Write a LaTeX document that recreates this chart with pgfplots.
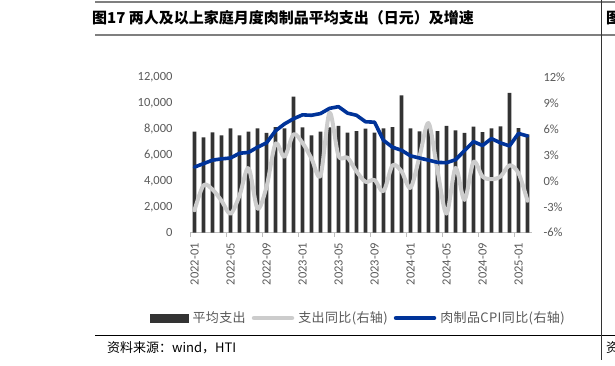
\documentclass[border=0pt]{standalone}
\usepackage{pgfplots}
\usepackage{pgfplotstable}
\pgfplotsset{compat=1.18}
\usepackage{fontspec}
\setmainfont{Carlito}
\newfontfamily\cjk{Noto Sans CJK SC}
\newfontfamily\cjkl{Noto Sans CJK SC}[LetterSpace=3]
\definecolor{barc}{HTML}{333333}
\definecolor{greyl}{HTML}{CCCCCC}
\definecolor{bluel}{HTML}{003399}
\definecolor{tickc}{HTML}{595959}
\definecolor{axc}{HTML}{BFBFBF}
\definecolor{rulec}{HTML}{7F7F7F}

\pgfplotstableread{
x spend yoy cpi
0 7800 -3.4 1.6
1 7370 -0.5 2.0
2 7750 -1.0 2.4
3 7520 -2.3 2.55
4 8060 -3.8 2.65
5 7520 -1.7 3.2
6 7800 1.5 3.3
7 8060 -3.2 3.9
8 7700 -0.7 4.4
9 8150 4.3 5.8
10 8060 2.8 6.6
11 10500 5.4 7.2
12 8140 4.4 7.65
13 7520 2.6 7.6
14 7800 0.6 7.8
15 8140 7.9 8.4
16 8250 2.9 8.6
17 7720 2.7 7.85
18 7850 1.1 7.6
19 8030 -0.1 6.85
20 7720 0.1 6.8
21 8060 -1.2 4.7
22 8160 1.8 3.9
23 10600 1.1 3.55
24 8060 -0.8 2.9
25 7820 2.8 2.65
26 8110 6.7 2.4
27 7850 1.2 2.15
28 8250 -3.8 2.1
29 7900 1.5 2.45
30 7710 -2.2 3.5
31 8190 2.2 4.55
32 7770 0.5 4.1
33 8060 0.2 4.9
34 8210 0.5 4.4
35 10800 1.8 4.05
36 8070 0.9 5.5
37 7600 -2.3 5.2
}\data

\begin{document}
\begin{tikzpicture}
\useasboundingbox (0pt,0pt) rectangle (615pt,366pt);
\draw[rulec, line width=1.5pt] (95pt,364pt) -- (615pt,364pt);
\draw[rulec, line width=1.5pt] (95pt,331pt) -- (615pt,331pt);
\draw[black, line width=0.9pt] (95pt,31pt) -- (615pt,31pt);
\draw[black!80, line width=0.9pt] (601pt,366pt) -- (601pt,6pt);
\node[anchor=west, inner sep=0, font=\cjk\bfseries\fontsize{15}{18}\selectfont] at (92pt,348pt) {图17 两人及以上家庭月度肉制品平均支出（日元）及增速};
\node[anchor=west, inner sep=0, font=\cjk\bfseries\fontsize{15}{18}\selectfont] at (606pt,348pt) {图};
\node[anchor=west, inner sep=0, font=\cjk\fontsize{13}{15}\selectfont] at (107pt,18pt) {资料来源：wind，HTI};
\node[anchor=west, inner sep=0, font=\cjk\fontsize{13}{15}\selectfont] at (606pt,18pt) {资};

\begin{axis}[
  at={(190pt,133.3pt)}, anchor=south west,
  width=342pt, height=155.4pt, scale only axis,
  xmin=-0.5, xmax=37.5, ymin=0, ymax=12000,
  axis x line*=bottom, axis y line*=left,
  y axis line style={draw=none},
  x axis line style={draw=axc, line width=0.8pt},
  xtick={0,4,...,36},
  xticklabels={2022-01,2022-05,2022-09,2023-01,2023-05,2023-09,2024-01,2024-05,2024-09,2025-01},
  major x tick style={draw=none},
  extra x ticks={-0.5,3.5,...,35.5},
  extra x tick labels={},
  extra x tick style={major tick length=4pt, tick align=outside, major x tick style={draw=axc, line width=0.8pt}},
  ytick={0,2000,...,12000},
  major y tick style={draw=none},
  /pgf/number format/assume math mode=true,
  /pgf/number format/1000 sep={,},
  ticklabel style={font=\fontsize{12.5}{14}\selectfont, text=tickc},
  xticklabel style={rotate=90, anchor=east, xshift=-7pt},
  yticklabel style={anchor=east, xshift=-14pt},
  scaled y ticks=false,
]
\addplot[ybar, bar width=3.8pt, fill=barc, draw=none] table[x=x, y=spend] {\data};
\end{axis}

\begin{axis}[
  at={(190pt,133.3pt)}, anchor=south west,
  width=342pt, height=155.4pt, scale only axis,
  xmin=-0.5, xmax=37.5, ymin=-6, ymax=12,
  axis x line=none, axis y line*=right,
  y axis line style={draw=none},
  ytick={-6,-3,...,12},
  major y tick style={draw=none},
  /pgf/number format/assume math mode=true,
  yticklabel={\pgfmathprintnumber{\tick}\%},
  yticklabel style={font=\fontsize{12.5}{14}\selectfont, text=tickc, anchor=west, xshift=8pt},
  legend columns=3,
  legend style={at={(axis description cs:-0.117,-0.549)}, anchor=west, draw=none, fill=none,
    font=\cjkl\fontsize{13}{15}\selectfont, text=tickc, inner sep=0pt,
    nodes={inner xsep=4pt},
    /tikz/every even column/.append style={column sep=2pt}},
  legend cell align=left,
]
\addlegendimage{legend image code/.code={\fill[barc] (0pt,-4pt) rectangle (38pt,4pt);}}
\addlegendentry{平均支出}
\addplot[greyl, line width=4pt, smooth, tension=0.5, line cap=round, line join=round,
  legend image code/.code={\draw[greyl, line width=4.5pt, line cap=round] (2pt,0pt) -- (40pt,0pt);}]
  table[x=x, y=yoy] {\data};
\addlegendentry{支出同比(右轴)}
\addplot[bluel, line width=3.6pt, line cap=round, line join=round,
  legend image code/.code={\draw[bluel, line width=4.5pt, line cap=round] (2pt,0pt) -- (40pt,0pt);}]
  table[x=x, y=cpi] {\data};
\addlegendentry{肉制品CPI同比(右轴)}
\end{axis}
\end{tikzpicture}
\end{document}
